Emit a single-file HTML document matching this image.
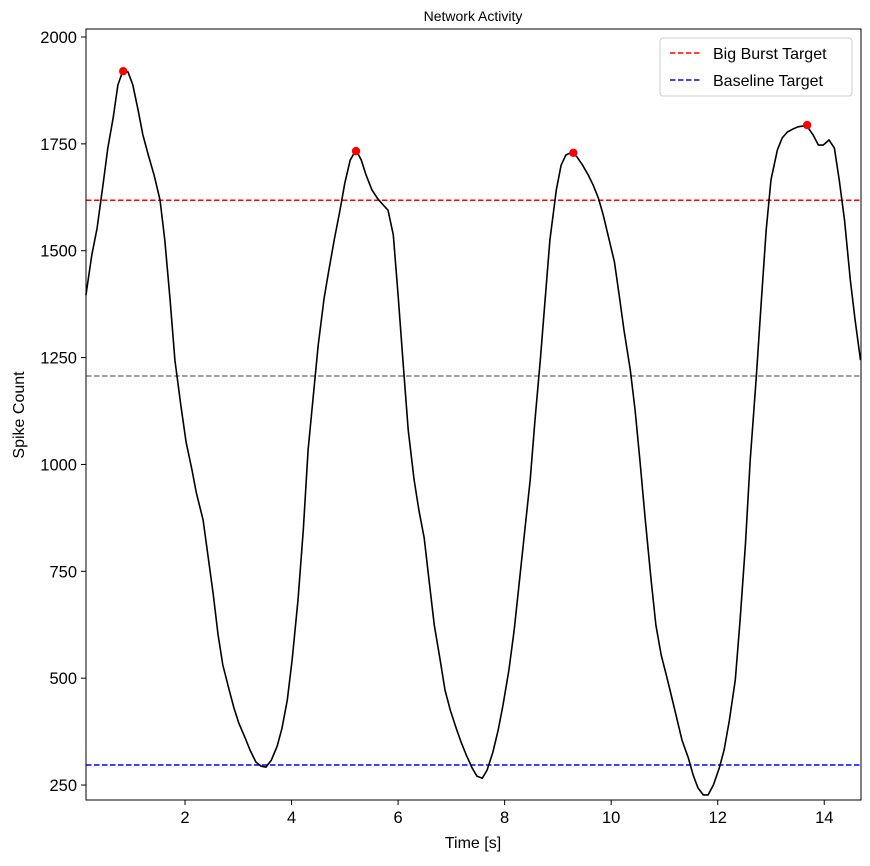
<!DOCTYPE html>
<html><head><meta charset="utf-8"><style>
body{margin:0;background:#fff;font-family:"Liberation Sans","DejaVu Sans",sans-serif}
</style></head><body>
<svg id="chart" width="870" height="861" xmlns="http://www.w3.org/2000/svg" font-family="Liberation Sans, DejaVu Sans, sans-serif">
<rect width="870" height="861" fill="#fff"/>
<text x="473" y="21" text-anchor="middle" font-size="14">Network Activity</text>
<g id="plot"></g>
<text x="473" y="848" text-anchor="middle" font-size="16">Time [s]</text>
<text transform="translate(24,415) rotate(-90)" text-anchor="middle" font-size="16">Spike Count</text>
<g>
<rect x="660" y="38" width="192" height="58" rx="3" fill="#fff" fill-opacity="0.8" stroke="#ccc"/>
<line x1="670" y1="53" x2="702" y2="53" stroke="red" stroke-width="1.5" stroke-dasharray="5.5,2.5"/>
<text x="713" y="59" font-size="16">Big Burst Target</text>
<line x1="670" y1="80" x2="702" y2="80" stroke="blue" stroke-width="1.5" stroke-dasharray="5.5,2.5"/>
<text x="713" y="86" font-size="16">Baseline Target</text>
</g>
</svg>
<script>
const times=[0.14,0.25,0.35,0.46,0.55,0.65,0.74,0.84,0.93,1.02,1.12,1.21,1.31,1.42,1.53,1.62,1.72,1.81,1.92,2.02,2.13,2.21,2.34,2.43,2.53,2.62,2.71,2.83,2.92,3.01,3.13,3.22,3.33,3.43,3.52,3.62,3.73,3.82,3.92,4.01,4.12,4.22,4.31,4.40,4.50,4.61,4.70,4.80,4.91,5.0,5.10,5.21,5.31,5.40,5.51,5.61,5.72,5.81,5.91,6.0,6.09,6.19,6.30,6.39,6.49,6.58,6.68,6.79,6.88,6.98,7.09,7.18,7.28,7.39,7.48,7.58,7.67,7.78,7.88,7.97,8.08,8.18,8.27,8.37,8.48,8.57,8.67,8.76,8.85,8.97,9.06,9.15,9.27,9.36,9.46,9.57,9.66,9.76,9.85,9.94,10.06,10.15,10.24,10.36,10.45,10.54,10.64,10.75,10.84,10.94,11.05,11.15,11.24,11.33,11.45,11.54,11.63,11.73,11.82,11.92,12.03,12.12,12.22,12.33,12.42,12.52,12.61,12.72,12.82,12.91,13.0,13.12,13.21,13.31,13.42,13.51,13.61,13.70,13.79,13.89,13.98,14.09,14.19,14.28,14.38,14.49,14.58,14.68];
const counts=[1396,1490,1553,1654,1740,1810,1888,1923,1918,1888,1829,1771,1724,1677,1619,1525,1385,1244,1139,1052,987,935,870,788,695,601,531,472,430,395,360,332,304,294,292,308,341,383,449,542,683,847,1034,1151,1279,1389,1455,1525,1595,1658,1712,1736,1712,1677,1642,1623,1607,1595,1537,1396,1244,1081,964,893,828,730,624,542,472,425,383,351,320,290,271,266,285,327,379,437,519,613,718,835,964,1104,1244,1385,1525,1642,1700,1724,1731,1719,1701,1677,1654,1623,1584,1537,1474,1396,1314,1221,1127,1010,870,730,624,554,500,449,402,355,313,273,243,227,227,250,290,332,402,496,636,812,1010,1198,1385,1549,1666,1736,1764,1778,1785,1790,1792,1787,1771,1747,1747,1759,1740,1666,1572,1432,1338,1244];
const peakTimes=[0.84,5.21,9.29,13.68];
const peakCounts=[1920,1733,1729,1794];
const xTicks=[2,4,6,8,10,12,14];
const yTicks=[250,500,750,1000,1250,1500,1750,2000];
const bigBurstTarget=1618;
const meanLevel=1207;
const baselineTarget=297;
const L=86,R=861,T=29,B=800,X0=0.141,X1=14.69,Y0=215,Y1=2018.7;
const xs=t=>L+(t-X0)/(X1-X0)*(R-L);
const ys=v=>B-(v-Y0)/(Y1-Y0)*(B-T);
const NS='http://www.w3.org/2000/svg';
const g=document.getElementById('plot');
function mk(tag,attrs,parent){const e=document.createElementNS(NS,tag);for(const k in attrs)e.setAttribute(k,attrs[k]);(parent||g).appendChild(e);return e;}
function hline(v,color,name){const e=mk('line',{x1:L,x2:R,y1:ys(v),y2:ys(v),stroke:color,'stroke-width':1.5,'stroke-dasharray':'5.5,2.5'});

}
hline(bigBurstTarget,'red','big-burst-target-line');
hline(meanLevel,'gray','mean-level-line');
hline(baselineTarget,'blue','baseline-target-line');
let d='';times.forEach((t,i)=>{d+=(i?'L':'M')+xs(t).toFixed(1)+','+ys(counts[i]).toFixed(1);});
const line=mk('path',{d:d,fill:'none',stroke:'#000','stroke-width':1.6});


peakTimes.forEach((t,i)=>{const c=mk('circle',{cx:xs(t),cy:ys(peakCounts[i]),r:4.2,fill:'red'});

});
const frame=mk('rect',{x:L,y:T,width:R-L,height:B-T,fill:'none',stroke:'#000','stroke-width':1});


xTicks.forEach(t=>{const x=xs(t);mk('line',{x1:x,x2:x,y1:B,y2:B+5,stroke:'#000'});
const tx=mk('text',{x:x,y:B+23,'text-anchor':'middle','font-size':16.5});tx.textContent=t;

});
yTicks.forEach(v=>{const y=ys(v);mk('line',{x1:L-5,x2:L,y1:y,y2:y,stroke:'#000'});
const tx=mk('text',{x:L-9,y:y+6,'text-anchor':'end','font-size':16.5});tx.textContent=v;

});
</script>
</body></html>
